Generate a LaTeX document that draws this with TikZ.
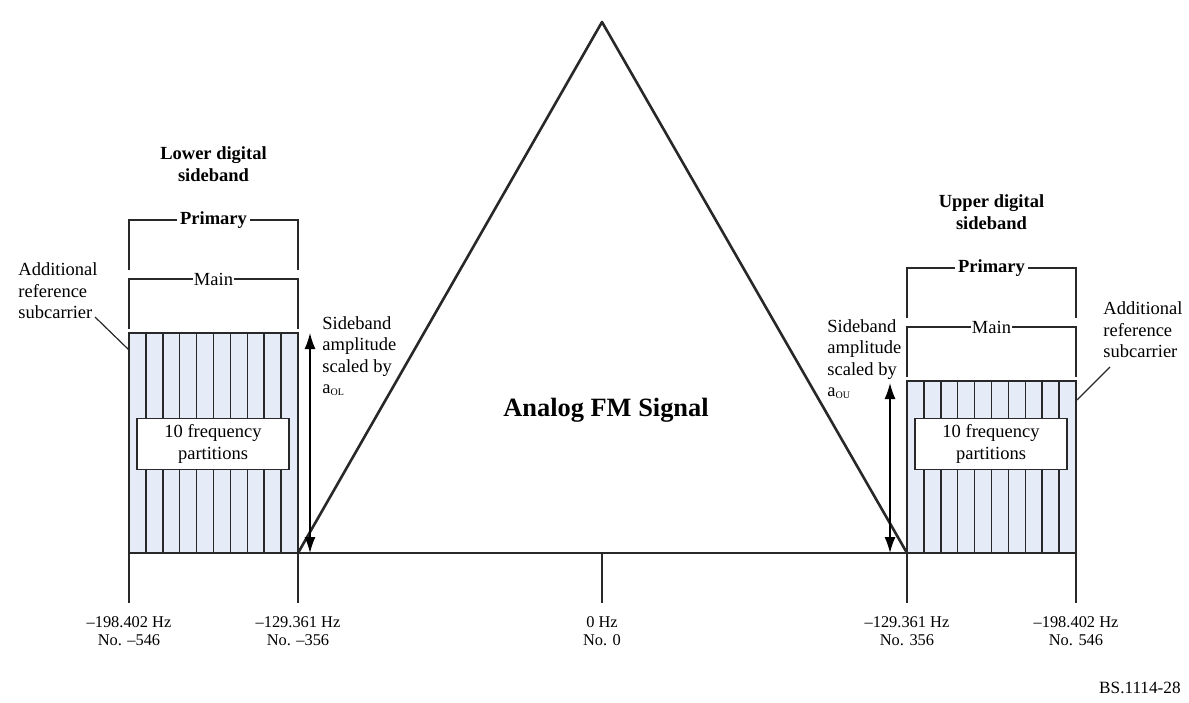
\documentclass[tikz,border=0pt]{standalone}
\usepackage{fontspec}
\setmainfont{Liberation Serif}
\usetikzlibrary{arrows.meta}
\definecolor{cellblue}{RGB}{230,236,247}
\definecolor{ink}{RGB}{40,40,40}
\begin{document}
\begin{tikzpicture}[x=0.5pt,y=-0.5pt,
  txt/.style={font=\fontsize{9.25}{10.7}\selectfont, inner sep=0pt, align=left, text=black},
  btxt/.style={font=\bfseries\fontsize{9.25}{10.7}\selectfont, inner sep=0pt, align=center},
  axlbl/.style={font=\fontsize{8.2}{9}\selectfont, inner sep=0pt, align=center},
  heavy/.style={draw=ink, line width=1.3pt},
  thin/.style={draw=ink, line width=0.75pt},
  bracket/.style={draw=ink, line width=0.75pt},
  brlbl/.style={fill=white, inner xsep=1.5pt, inner ysep=1pt},
  partbox/.style={draw=ink, line width=0.75pt, fill=white, minimum width=76pt, minimum height=25.5pt, inner sep=0pt, align=center, font=\fontsize{9.25}{10.7}\selectfont},
  amparrow/.style={draw=black, line width=0.7pt, {Latex[length=8pt,width=5.5pt]}-{Latex[length=8pt,width=5.5pt]}},
  leader/.style={draw=ink, line width=0.6pt}
]
\useasboundingbox (0,0) rectangle (1189,702);

% ---- key coordinates ----
\coordinate (apex) at (602,22);
\coordinate (Lin) at (298,553);
\coordinate (Rin) at (907,553);
\coordinate (Lout) at (129,553);
\coordinate (Rout) at (1076,553);

% ---- lower sideband block ----
\coordinate (LboxNW) at (129,333);
\draw[thin, fill=cellblue] (LboxNW) rectangle (Lin);
\foreach \i in {1,...,9} \draw[thin] ({129+\i*16.9},333) -- ({129+\i*16.9},553);
\node[partbox] (lpart) at (213,444) {10 frequency\\partitions};

% ---- upper sideband block ----
\coordinate (RboxNW) at (907,381);
\draw[thin, fill=cellblue] (RboxNW) rectangle (Rout);
\foreach \i in {1,...,9} \draw[thin] ({907+\i*16.9},381) -- ({907+\i*16.9},553);
\node[partbox] (rpart) at (991,444) {10 frequency\\partitions};

% ---- analog FM triangle and baseline ----
\draw[heavy, line join=round] (Lin) -- (apex) -- (Rin);
\draw[heavy] (Lin) -- (Rin);
\node[font=\bfseries\fontsize{13.2}{15}\selectfont, inner sep=0pt] (fm) at (606,410) {Analog FM Signal};

% ---- ticks ----
\foreach \n/\x in {t1/129,t2/298,t3/602,t4/907,t5/1076} {
  \coordinate (\n) at (\x,603);
  \draw[thin] (\x,553) -- (\n);
}

% ---- axis labels ----
\node[axlbl] (l1) at (129,631) {–198.402 Hz\\No. –546};
\node[axlbl] (l2) at (298,631) {–129.361 Hz\\No. –356};
\node[axlbl] (l3) at (602,631) {0 Hz\\No. 0};
\node[axlbl] (l4) at (907,631) {–129.361 Hz\\No. 356};
\node[axlbl] (l5) at (1076,631) {–198.402 Hz\\No. 546};
\node[font=\fontsize{8.6}{10}\selectfont, inner sep=0pt, anchor=east] (fig) at (1181,688) {BS.1114-28};

% ---- lower sideband brackets ----
\node[btxt] (lowtitle) at (213.5,164) {Lower digital\\sideband};
\draw[bracket] (129,270) -- (129,220) -- (298,220) -- (298,270);
\node[btxt, brlbl] (lprim) at (213.5,220) {Primary};
\draw[bracket] (129,329) -- (129,279) -- (298,279) -- (298,329);
\node[txt, fill=white, inner xsep=0.3pt, inner ysep=1pt] (lmain) at (213.5,279) {Main};

% ---- upper sideband brackets ----
\node[btxt] (uptitle) at (991.5,212) {Upper digital\\sideband};
\draw[bracket] (907,318) -- (907,268) -- (1076,268) -- (1076,318);
\node[btxt, brlbl] (rprim) at (991.5,268) {Primary};
\draw[bracket] (907,377) -- (907,327) -- (1076,327) -- (1076,377);
\node[txt, fill=white, inner xsep=0.3pt, inner ysep=1pt] (rmain) at (991.5,327) {Main};

% ---- additional reference subcarrier labels ----
\node[txt, anchor=west] (ladd) at (18,291) {Additional\\reference\\subcarrier};
\coordinate (laddstart) at (95,317);
\coordinate (laddend) at (129,350);
\draw[leader] (laddstart) -- (laddend);
\node[txt, anchor=west] (radd) at (1103,330) {Additional\\reference\\subcarrier};
\coordinate (raddstart) at (1110,367);
\coordinate (raddend) at (1077,400);
\draw[leader] (raddstart) -- (raddend);

% ---- amplitude arrows ----
\coordinate (lat) at (310,333);
\coordinate (lab) at (310,553);
\draw[amparrow] (lab) -- (lat);
\node[txt, anchor=west] (lamp) at (322,356) {Sideband\\amplitude\\scaled by\\a\textsubscript{\tiny OL}};
\coordinate (rat) at (890,383);
\coordinate (rab) at (890,553);
\draw[amparrow] (rab) -- (rat);
\node[txt, anchor=west] (ramp) at (827,359) {Sideband\\amplitude\\scaled by\\a\textsubscript{\tiny OU}};
\end{tikzpicture}
\end{document}
